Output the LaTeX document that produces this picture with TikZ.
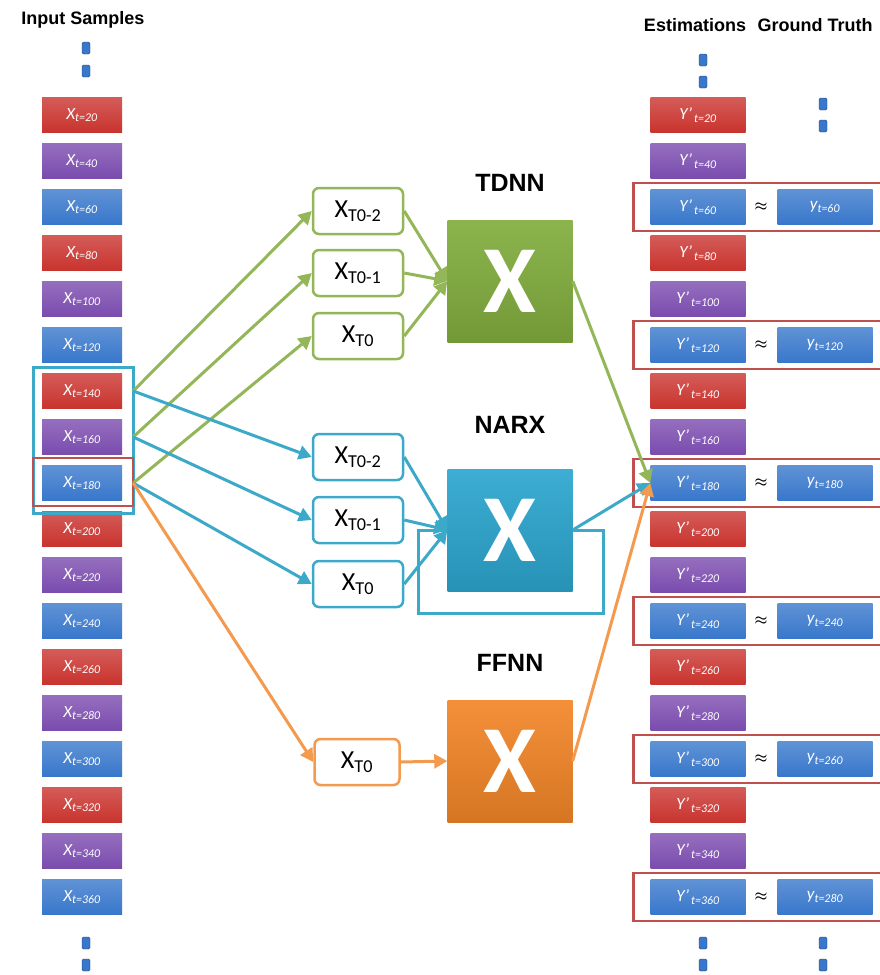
\documentclass[tikz,border=0pt]{standalone}
\usepackage{fontspec}
\setmainfont{Carlito}
\newfontfamily\headfont{Liberation Sans}
\usetikzlibrary{arrows.meta,calc}

\definecolor{smpred}{HTML}{C9332E}
\definecolor{smppurple}{HTML}{7A4BAE}
\definecolor{smpblue}{HTML}{3877CB}
\definecolor{tdgreen}{HTML}{93B658}
\definecolor{nxcyan}{HTML}{3DA9C8}
\definecolor{fforange}{HTML}{F39A4E}
\definecolor{tdbox}{HTML}{82AE3E}
\definecolor{nxbox}{HTML}{2CA6CF}
\definecolor{ffbox}{HTML}{F38628}
\definecolor{hlred}{HTML}{C0504D}

\newcommand\smpfont{\itshape\fontsize{17}{17}\selectfont}
\newcommand\headtxt{\headfont\bfseries\fontsize{18}{18}\selectfont}

\tikzset{
  sample/.style={minimum width=80pt, minimum height=35pt, inner sep=0pt, text=white, font=\smpfont},
  wide/.style={minimum width=95pt},
  gapdot/.style={rounded corners=1.5pt, fill=smpblue, draw=smpblue!60!black, minimum width=8pt, minimum height=12pt, inner sep=0pt},
  hlbox/.style={draw=hlred, line width=2.5pt},
  inbox/.style={draw=#1, line width=2.5pt, rounded corners=6pt, fill=white, minimum width=90pt, minimum height=46pt, inner sep=0pt, font=\fontsize{26}{26}\selectfont},
  netbox/.style={top color=#1!92!white, bottom color=#1!88!black, minimum width=125pt, minimum height=122pt, inner sep=0pt, text=white, font=\bfseries\fontsize{96}{96}\selectfont},
  netlabel/.style={font=\headfont\bfseries\fontsize{25}{25}\selectfont},
  link/.style={draw=#1, line width=3pt, -{Triangle[length=13pt,width=14pt]}},
}

\begin{document}
\begin{tikzpicture}[x=1pt, y=-1pt]
    \useasboundingbox (0,0) rectangle (880,975);
    \def\smpcolors{{"smpred","smppurple","smpblue"}}

    % titles
    \node[font=\headtxt] (intitle) at (83,20) {Input Samples};
    \node[font=\headtxt] (esttitle) at (695,25) {Estimations};
    \node[font=\headtxt] (gttitle) at (815,25) {Ground Truth};

    % gaps in the sequences
    \foreach \x/\y in {86/48, 86/71, 86/943, 86/965, 703/60, 703/82, 823/104, 823/126, 703/943, 703/965, 823/943, 823/965}
        \node[gapdot] at (\x,\y) {};

    % input samples and estimations
    \foreach \t [count=\i from 0] in {20,40,...,360} {
        \pgfmathsetmacro{\c}{\smpcolors[mod(\i,3)]}
        \node[sample, top color=\c!80!white, bottom color=\c] (in\t) at (82,115+46*\i) {X\textsubscript{t=\t}};
        \node[sample, wide, top color=\c!80!white, bottom color=\c] (est\t) at (698,115+46*\i) {Y'\textsubscript{\,t=\t}};
    }

    % ground truth
    \coordinate (gtcol) at (825,0);
    \coordinate (apcol) at (761,0);
    \foreach \t/\g in {60/60,120/120,180/180,240/240,300/260,360/280} {
        \node[sample, wide, top color=smpblue!80!white, bottom color=smpblue] (gt\t) at (est\t -| gtcol) {y\textsubscript{t=\g}};
        \node[font=\boldmath\fontsize{15}{15}\selectfont] (ap\t) at (est\t -| apcol) {$\approx$};
        \draw[hlbox] ($(est\t.north west)+(-17,-6.5)$) rectangle ($(gt\t.south east)+(10,6.5)$);
    }

    % selected window
    \draw[nxcyan, line width=3pt] (33,367) rectangle (133,513);
    \draw[hlbox] (33,458) rectangle (133,506);
    \coordinate (s140) at ([xshift=11pt]in140.east);
    \coordinate (s160) at ([xshift=11pt]in160.east);
    \coordinate (s180) at ([xshift=11pt]in180.east);

    % networks
    \node[netlabel] (tdnnlabel) at (510,183) {TDNN};
    \node[netlabel] (narxlabel) at (510,425) {NARX};
    \node[netlabel] (ffnnlabel) at (510,663) {FFNN};

    \draw[nxcyan, line width=3pt] (418,530) rectangle (603,613);

    \node[netbox=tdbox] (tdnn) at (510,281) {X};
    \node[netbox=nxbox] (narx) at (510,530) {X};
    \node[netbox=ffbox] (ffnn) at (510,761) {X};

    \node[inbox=tdgreen] (td2) at (358,211) {X\textsubscript{T0-2}};
    \node[inbox=tdgreen] (td1) at (358,273) {X\textsubscript{T0-1}};
    \node[inbox=tdgreen] (td0) at (358,336) {X\textsubscript{T0}};
    \node[inbox=nxcyan] (nx2) at (358,457) {X\textsubscript{T0-2}};
    \node[inbox=nxcyan] (nx1) at (358,520) {X\textsubscript{T0-1}};
    \node[inbox=nxcyan] (nx0) at (358,584) {X\textsubscript{T0}};
    \node[inbox=fforange, minimum width=85pt] (ff0) at (357,762) {X\textsubscript{T0}};

    % samples into the inputs
    \draw[link=tdgreen] (s140) -- (td2.west);
    \draw[link=tdgreen] (s160) -- (td1.west);
    \draw[link=tdgreen] (s180) -- (td0.west);
    \draw[link=nxcyan] (s140) -- (nx2.west);
    \draw[link=nxcyan] (s160) -- (nx1.west);
    \draw[link=nxcyan] (s180) -- (nx0.west);
    \draw[link=fforange] (s180) -- (ff0.west);

    % inputs into the networks
    \foreach \n in {td2,td1,td0}
        \draw[link=tdgreen] (\n.east) -- (tdnn.west);
    \foreach \n in {nx2,nx1,nx0}
        \draw[link=nxcyan] (\n.east) -- (narx.west);
    \draw[link=fforange] (ff0.east) -- (ffnn.west);

    % networks to the estimation
    \draw[link=tdgreen] (tdnn.east) -- (est180.west);
    \draw[link=nxcyan] (narx.east) -- (est180.west);
    \draw[link=fforange] (ffnn.east) -- (est180.west);
\end{tikzpicture}
\end{document}
